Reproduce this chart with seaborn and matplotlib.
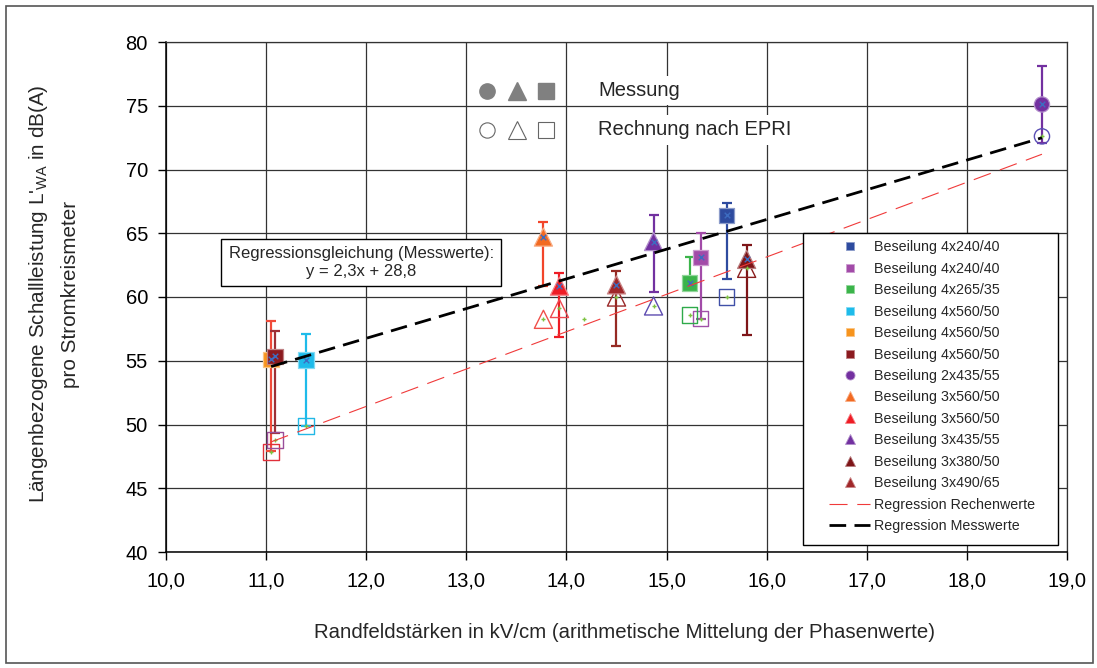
import numpy as np
import pandas as pd
import seaborn as sns
import matplotlib.pyplot as plt
from matplotlib.lines import Line2D
from matplotlib.patches import Rectangle
from matplotlib.colors import to_rgb

# Daten
series_labels = ["Beseilung 4x240/40", "Beseilung 4x240/40", "Beseilung 4x265/35",
                 "Beseilung 4x560/50", "Beseilung 4x560/50", "Beseilung 4x560/50",
                 "Beseilung 2x435/55", "Beseilung 3x560/50", "Beseilung 3x560/50",
                 "Beseilung 3x435/55", "Beseilung 3x380/50", "Beseilung 3x490/65"]
markers = ['s', 's', 's', 's', 's', 's', 'o', '^', '^', '^', '^', '^']
fill_colors = ['#2E4B9F', '#A24BA8', '#3BB44A', '#1EBBEA', '#F7941D', '#8B1A1F',
               '#7330A0', '#F26A22', '#EE1C25', '#7231A0', '#7E1518', '#A0282A']
bar_colors = ['#2E4B9F', '#A24BA8', '#3BB44A', '#1EBBEA', '#F04B3A', '#9E2F35',
              '#7330A0', '#F2452A', '#EE1C25', '#7231A0', '#7E1518', '#962A24']
open_colors = ['#4050A8', '#A050A8', '#2EAA4A', '#22B8E6', '#E0303A', '#9A4E9A',
               '#5B4FB5', '#F0504A', '#F04850', '#5D4BB0', '#8A1E1E', '#9A2A2A']

x_field = [15.60, 15.34, 15.23, 11.40, 11.05, 11.09, 18.75, 13.77, 13.93, 14.87, 15.80, 14.50]
y_meas = [66.4, 63.1, 61.1, 55.05, 55.1, 55.35, 75.1, 64.7, 60.85, 64.35, 62.95, 60.95]
y_low = [61.4, 58.3, 61.1, 49.9, 47.9, 49.3, 72.1, 60.9, 56.9, 60.4, 57.0, 56.15]
y_high = [67.35, 65.05, 63.1, 57.1, 58.15, 57.3, 78.1, 65.9, 61.9, 66.45, 64.1, 62.05]
y_calc = [60.0, 58.3, 58.6, 49.9, 47.85, 48.8, 72.6, 58.25, 59.1, 59.3, 62.25, 60.0]
x_extra = [14.18]
y_extra = [58.3]

# Regressionen
reg_x = [11.05, 18.75]
meas_slope, meas_icpt = 2.33, 28.8
calc_slope, calc_icpt = 2.93, 16.26

x_ticks = [10, 11, 12, 13, 14, 15, 16, 17, 18, 19]
y_ticks = [40, 45, 50, 55, 60, 65, 70, 75, 80]

sns.set_style("white")
plt.rcParams['font.family'] = ['Liberation Sans', 'DejaVu Sans']
plt.rcParams['mathtext.fontset'] = 'custom'
plt.rcParams['mathtext.rm'] = 'Liberation Sans'
plt.rcParams['lines.scale_dashes'] = False


def lighten(c, f=0.45):
    r, g, b = to_rgb(c)
    return (r + (1 - r) * f, g + (1 - g) * f, b + (1 - b) * f)


sids = [str(i) for i in range(len(series_labels))]
sizes = {s: (125 if m == 's' else 120 if m == 'o' else 170) for s, m in zip(sids, markers)}
df_meas = pd.DataFrame({'x': x_field, 'y': y_meas, 'sid': sids})
df_calc = pd.DataFrame({'x': x_field, 'y': y_calc, 'sid': sids})

fig = plt.figure(figsize=(10.97, 6.68), dpi=100)
ax = fig.add_axes([166 / 1097, 1 - 552 / 668, 901 / 1097, 510 / 668])

# Fehlerbalken
for i in range(len(sids)):
    ax.errorbar(x_field[i], y_meas[i],
                yerr=[[y_meas[i] - y_low[i]], [y_high[i] - y_meas[i]]],
                fmt='none', ecolor=bar_colors[i], elinewidth=1.6,
                capsize=3.5, capthick=1.6, zorder=3)

# Rechnung nach EPRI (offen)
sns.scatterplot(data=df_calc, x='x', y='y', hue='sid', style='sid', size='sid',
                palette=dict(zip(sids, open_colors)), markers=dict(zip(sids, markers)),
                sizes=sizes, edgecolor=open_colors, linewidth=1.0,
                legend=False, ax=ax, zorder=3.5)
ax.collections[-1].set_facecolor('none')
ax.collections[-1].set_edgecolor(open_colors)

# Messung (gefuellt)
sns.scatterplot(data=df_meas, x='x', y='y', hue='sid', style='sid', size='sid',
                palette=dict(zip(sids, fill_colors)), markers=dict(zip(sids, markers)),
                sizes=sizes, edgecolor=[lighten(c) for c in fill_colors], linewidth=0.9,
                legend=False, ax=ax, zorder=4)

# kleine Hilfspunkte (Excel-Artefakte)
sns.scatterplot(x=x_field, y=y_meas, marker='x', color='#3D6CC0', s=16,
                linewidth=1.0, legend=False, ax=ax, zorder=5)
sns.scatterplot(x=x_field + x_extra, y=y_calc + y_extra, marker='+', color='#7DC242',
                s=9, linewidth=1.0, legend=False, ax=ax, zorder=5)

# Regressionsgeraden
rx = np.array(reg_x)
ax.plot(rx, calc_slope * rx + calc_icpt, color='#F03A3A', lw=0.8,
        dashes=(13, 7), zorder=5)
ax.plot(rx, meas_slope * rx + meas_icpt, color='black', lw=2.0,
        dashes=(12, 6), zorder=5)

ax.set_xlim(10, 19)
ax.set_ylim(40, 80)
ax.set_xticks(x_ticks)
ax.set_yticks(y_ticks)
ax.set_xticklabels([f"{t:.1f}".replace('.', ',') for t in x_ticks])
ax.set_yticklabels([str(t) for t in y_ticks])
ax.tick_params(axis='both', direction='out', length=6, width=1, color='black',
               labelsize=14.5, labelcolor='black')
ax.tick_params(axis='x', pad=8, bottom=True)
ax.tick_params(axis='y', pad=7, left=True)
ax.grid(True, color='#333333', lw=0.9)
ax.set_axisbelow(True)
for side in ['left', 'bottom']:
    ax.spines[side].set_color('black')
    ax.spines[side].set_linewidth(1.1)
for side in ['top', 'right']:
    ax.spines[side].set_color('#333333')
    ax.spines[side].set_linewidth(0.9)
ax.set_xlabel('')
ax.set_ylabel('')

# Symbol-Legende oben
sym_x = [0.3563, 0.3896, 0.4218]
sym_m = ['o', '^', 's']
sym_s = [11, 13, 11]
for xx, m, ms in zip(sym_x, sym_m, sym_s):
    ax.plot(xx, 0.904, marker=m, ms=ms, color='#808080', mec='#808080',
            transform=ax.transAxes, zorder=6, clip_on=False)
    ax.plot(xx, 0.8275, marker=m, ms=ms, mfc='none', mec='#666666', mew=0.8,
            transform=ax.transAxes, zorder=6, clip_on=False)
ax.text(0.4795, 0.904, 'Messung', transform=ax.transAxes, fontsize=14.5,
        ha='left', va='center', zorder=6,
        bbox=dict(boxstyle='square,pad=0.25', fc='white', ec='none'))
ax.text(0.4795, 0.8275, 'Rechnung nach EPRI', transform=ax.transAxes, fontsize=14.5,
        ha='left', va='center', zorder=6,
        bbox=dict(boxstyle='square,pad=0.25', fc='white', ec='none'))

# Regressionsgleichung
ax.text(0.2165, 0.5676, 'Regressionsgleichung (Messwerte):\ny = 2,3x + 28,8',
        transform=ax.transAxes, fontsize=12, ha='center', va='center',
        multialignment='center', linespacing=1.2, zorder=6,
        bbox=dict(boxstyle='square,pad=0.45', fc='white', ec='black', lw=1))

# Legende
ax.add_patch(Rectangle((0.707, 0.0137), 0.283, 0.6118, transform=ax.transAxes,
                       fc='white', ec='black', lw=1, zorder=7))
handles = []
for lab, m, c in zip(series_labels, markers, fill_colors):
    ms = 6 if m == 's' else 6.5 if m == 'o' else 7
    handles.append(Line2D([], [], linestyle='none', marker=m, ms=ms, color=c,
                          mec=lighten(c), mew=0.6, label=lab))
handles.append(Line2D([], [], color='#F03A3A', lw=0.8, dashes=(13, 7),
                      label='Regression Rechenwerte'))
handles.append(Line2D([], [], color='black', lw=2.0, dashes=(12, 6),
                      label='Regression Messwerte'))
leg = ax.legend(handles=handles, loc='upper left', bbox_to_anchor=(0.7358, 0.611),
                frameon=False, fontsize=10.3, labelspacing=0.52, handlelength=2.9,
                handletextpad=0.25, borderpad=0, borderaxespad=0)
leg.set_zorder(8)

# Achsentitel
fig.text(39 / 1097, 1 - 294 / 668,
         "Längenbezogene Schallleistung L'$_{\\mathrm{WA}}$ in dB(A)",
         rotation=90, ha='center', va='center', fontsize=14.9)
fig.text(70 / 1097, 1 - 294 / 668, "pro Stromkreismeter",
         rotation=90, ha='center', va='center', fontsize=14.9)
fig.text(625 / 1097, 1 - 632 / 668,
         'Randfeldstärken in kV/cm (arithmetische Mittelung der Phasenwerte)',
         ha='center', va='center', fontsize=14.7)

# Rahmen
fig.patches.append(Rectangle((5.5 / 1097, 5.5 / 668), 1087 / 1097, 657 / 668,
                             transform=fig.transFigure, fill=False,
                             ec='#555555', lw=1.2))

fig.savefig('out.png', dpi=100)
